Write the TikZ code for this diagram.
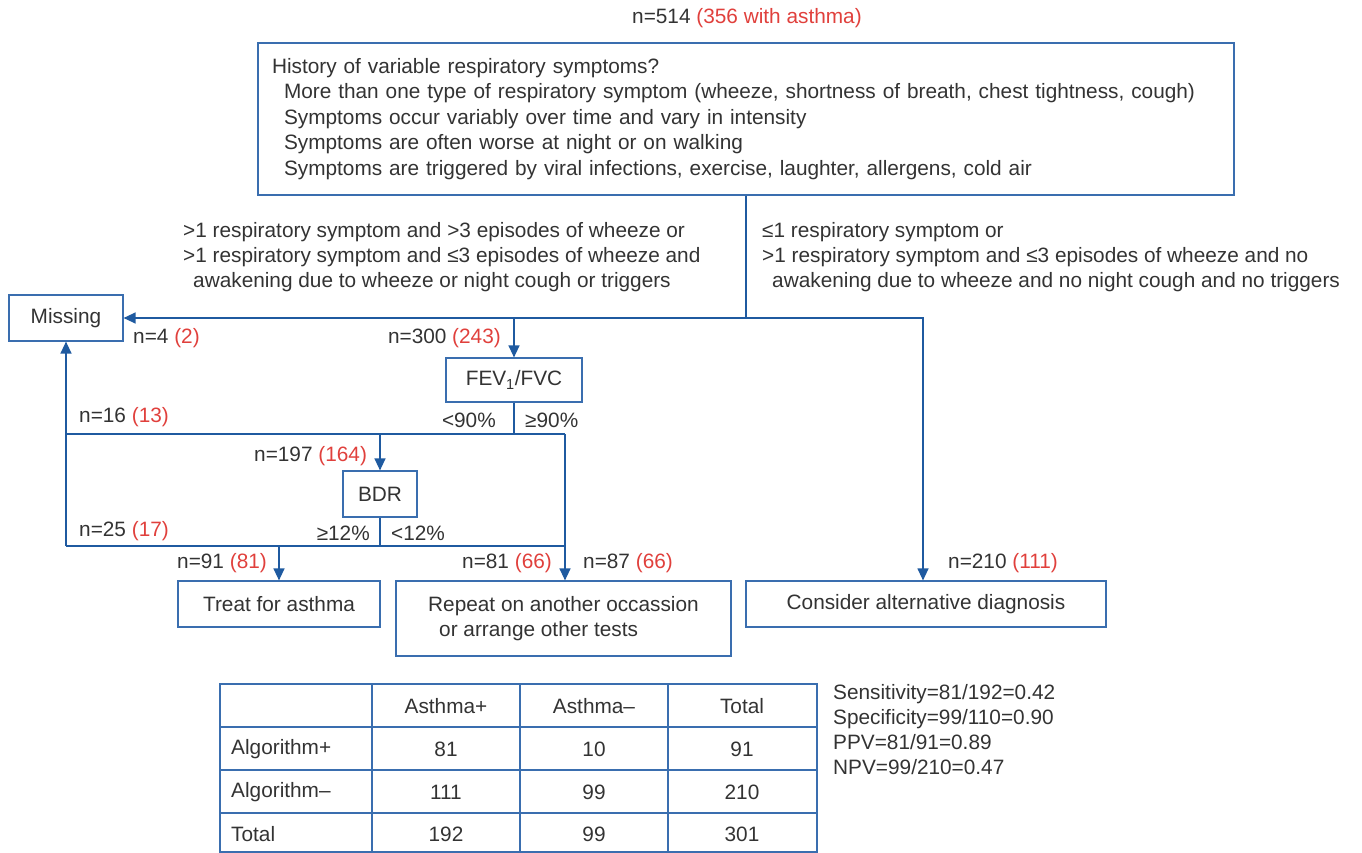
\documentclass[tikz,border=0pt]{standalone}
\usepackage{fontspec}
\setmainfont{Liberation Sans}
\usetikzlibrary{arrows.meta}
\definecolor{boxblue}{HTML}{3A6EAF}
\definecolor{arrblue}{HTML}{1F5AA0}
\definecolor{txt}{HTML}{333333}
\definecolor{redtxt}{HTML}{E0403C}
\newcommand{\rd}[1]{\textcolor{redtxt}{#1}}
\begin{document}
\begin{tikzpicture}[x=1pt,y=-1pt,
  every node/.style={text=txt,font=\fontsize{20.8}{25.5}\selectfont},
  box/.style={draw=boxblue,line width=1.2pt,inner sep=0pt,fill=white},
  conn/.style={draw=arrblue,line width=1.3pt},
  arr/.style={conn,-{Triangle[length=12pt,width=11pt]}},
  lbl/.style={inner sep=0pt},
  cellline/.style={draw=boxblue,line width=1.2pt}]
\useasboundingbox (0,0) rectangle (1362,853);

% top count
\node[lbl,anchor=base west] (ntop) at (632,24) {n=514 \rd{(356 with asthma)}};

% history box
\node[box,minimum width=976pt,minimum height=152pt,text width=948pt,align=left] (hist) at (746,119)
 {History of variable respiratory symptoms?\\
  \hspace*{12pt}More than one type of respiratory symptom (wheeze, shortness of breath, chest tightness, cough)\\
  \hspace*{12pt}Symptoms occur variably over time and vary in intensity\\
  \hspace*{12pt}Symptoms are often worse at night or on walking\\
  \hspace*{12pt}Symptoms are triggered by viral infections, exercise, laughter, allergens, cold air};

% condition labels
\node[lbl,anchor=west,align=left,font=\fontsize{20.8}{25}\selectfont] (condL) at (183,257)
 {>1 respiratory symptom and >3 episodes of wheeze or\\
  >1 respiratory symptom and ≤3 episodes of wheeze and\\
  \hspace*{10pt}awakening due to wheeze or night cough or triggers};
\node[lbl,anchor=west,align=left,font=\fontsize{20.8}{25}\selectfont] (condR) at (762,257)
 {≤1 respiratory symptom or\\
  >1 respiratory symptom and ≤3 episodes of wheeze and no\\
  \hspace*{10pt}awakening due to wheeze and no night cough and no triggers};

% boxes
\node[box,minimum width=114pt,minimum height=46pt] (missing) at (66,318) {Missing};
\node[box,minimum width=136pt,minimum height=44pt] (fev) at (514,380) {FEV\textsubscript{1}/FVC};
\node[box,minimum width=74pt,minimum height=46pt] (bdr) at (380,494) {BDR};
\node[box,minimum width=202pt,minimum height=46pt] (treat) at (279,604) {Treat for asthma};
\node[box,minimum width=335pt,minimum height=75pt,align=left] (repeat) at (563.5,618.5)
 {Repeat on another occassion\\\hspace*{11pt}or arrange other tests};
\node[box,minimum width=360pt,minimum height=46pt] (consider) at (926,604) {Consider alternative diagnosis};

% count labels
\node[lbl,anchor=west] (n4) at (133,338) {n=4 \rd{(2)}};
\node[lbl,anchor=east] (n300) at (501,338) {n=300 \rd{(243)}};
\node[lbl,anchor=east] (lt90) at (496,420) {<90\%};
\node[lbl,anchor=west] (ge90) at (525,420) {≥90\%};
\node[lbl,anchor=west] (n16) at (79,417) {n=16 \rd{(13)}};
\node[lbl,anchor=west] (n197) at (254,456) {n=197 \rd{(164)}};
\node[lbl,anchor=west] (n25) at (79,531) {n=25 \rd{(17)}};
\node[lbl,anchor=east] (ge12) at (370,533) {≥12\%};
\node[lbl,anchor=west] (lt12) at (391,533) {<12\%};
\node[lbl,anchor=west] (n91) at (177,563) {n=91 \rd{(81)}};
\node[lbl,anchor=west] (n81) at (462,563) {n=81 \rd{(66)}};
\node[lbl,anchor=west] (n87) at (583,563) {n=87 \rd{(66)}};
\node[lbl,anchor=west] (n210) at (948,563) {n=210 \rd{(111)}};

% connectors
\coordinate (j1) at (746,318);
\coordinate (jc) at (923,318);
\coordinate (l1) at (66,434);
\coordinate (r1) at (565,434);
\coordinate (l2) at (66,546);
\coordinate (r2) at (565,546);
\draw[conn] (hist.south) -- (j1);
\draw[arr] (j1) -- (missing.east);
\draw[arr] (j1) -- (jc) -- (jc |- consider.north);
\draw[arr] (j1 -| fev.north) -- (fev.north);
\draw[conn] (fev.south) -- (fev.south |- l1);
\draw[conn] (l1) -- (r1);
\draw[arr] (bdr.north |- l1) -- (bdr.north);
\draw[conn] (bdr.south) -- (bdr.south |- l2);
\draw[conn] (l2) -- (r2);
\draw[arr] (l2) -- (missing.south);
\draw[arr] (r1) -- (r1 |- repeat.north);
\draw[arr] (treat.north |- l2) -- (treat.north);

% table
\draw[cellline] (220,684) rectangle (817,852);
\foreach \yy in {727,770,813} \draw[cellline] (220,\yy) -- (817,\yy);
\foreach \xx in {372,520,668} \draw[cellline] (\xx,684) -- (\xx,852);
\node[lbl] (h1) at (446,706) {Asthma+};
\node[lbl] (h2) at (594,706) {Asthma–};
\node[lbl] (h3) at (742,706) {Total};
\node[lbl,anchor=west] (r1l) at (231,749) {Algorithm+};
\node[lbl] (c11) at (446,749) {81};
\node[lbl] (c12) at (594,749) {10};
\node[lbl] (c13) at (742,749) {91};
\node[lbl,anchor=west] (r2l) at (231,792) {Algorithm–};
\node[lbl] (c21) at (446,792) {111};
\node[lbl] (c22) at (594,792) {99};
\node[lbl] (c23) at (742,792) {210};
\node[lbl,anchor=west] (r3l) at (231,834) {Total};
\node[lbl] (c31) at (446,834) {192};
\node[lbl] (c32) at (594,834) {99};
\node[lbl] (c33) at (742,834) {301};

% stats
\node[lbl,anchor=west,align=left,font=\fontsize{20.8}{25}\selectfont] (stats) at (833,730)
 {Sensitivity=81/192=0.42\\Specificity=99/110=0.90\\PPV=81/91=0.89\\NPV=99/210=0.47};
\end{tikzpicture}
\end{document}
